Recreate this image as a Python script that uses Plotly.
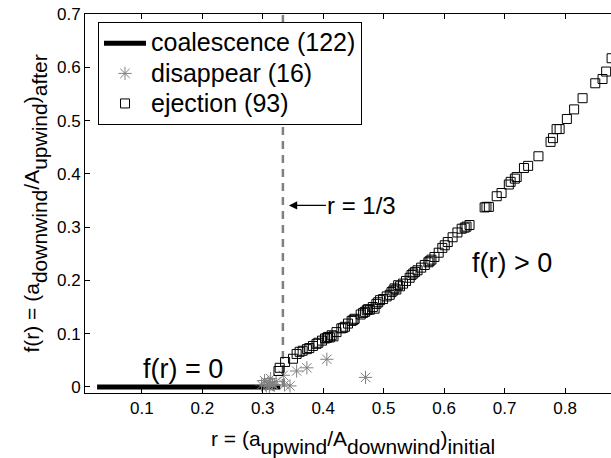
import plotly.graph_objects as go

FONT = "Liberation Sans, Arial, Helvetica, sans-serif"

# coalescence: f(r) = 0 for small r
coal_r = [0.026, 0.034, 0.041, 0.049, 0.058, 0.066, 0.075, 0.083, 0.092, 0.101,
          0.112, 0.121, 0.133, 0.142, 0.154, 0.163, 0.175, 0.186, 0.197, 0.209,
          0.218, 0.229, 0.241, 0.252, 0.263, 0.274, 0.285, 0.294, 0.303, 0.311,
          0.318, 0.324, 0.329]
coal_f = [0.0] * len(coal_r)

# disappear (16)
dis_r = [0.298, 0.303, 0.306, 0.309, 0.311, 0.313, 0.316, 0.319, 0.322, 0.334,
         0.336, 0.345, 0.356, 0.373, 0.406, 0.470]
dis_f = [0.004, 0.012, 0.002, 0.008, 0.001, 0.016, 0.005, 0.003, 0.010, 0.022,
         0.004, 0.002, 0.030, 0.036, 0.052, 0.018]

# ejection (93)
ej_r = [0.326, 0.328, 0.337, 0.350, 0.356, 0.361, 0.366, 0.373, 0.377, 0.383,
        0.389, 0.392, 0.398, 0.403, 0.406, 0.408, 0.411, 0.414, 0.417, 0.422,
        0.430, 0.433, 0.436, 0.441, 0.447, 0.450, 0.452, 0.462, 0.466, 0.469,
        0.472, 0.474, 0.477, 0.482, 0.485, 0.488, 0.491, 0.494, 0.499, 0.505,
        0.510, 0.513, 0.516, 0.518, 0.521, 0.524, 0.527, 0.532, 0.537, 0.543,
        0.546, 0.549, 0.552, 0.556, 0.562, 0.568, 0.574, 0.576, 0.579, 0.584,
        0.591, 0.597, 0.601, 0.606, 0.614, 0.622, 0.629, 0.634, 0.637, 0.642,
        0.667, 0.670, 0.674, 0.687, 0.695, 0.707, 0.710, 0.717, 0.720, 0.732,
        0.739, 0.756, 0.776, 0.780, 0.786, 0.791, 0.803, 0.815, 0.829, 0.850,
        0.862, 0.868, 0.877]
ej_f = [0.030, 0.036, 0.047, 0.053, 0.062, 0.066, 0.068, 0.071, 0.073, 0.077,
        0.081, 0.083, 0.087, 0.091, 0.092, 0.094, 0.093, 0.097, 0.095, 0.103,
        0.110, 0.111, 0.113, 0.119, 0.124, 0.126, 0.128, 0.136, 0.139, 0.141,
        0.144, 0.146, 0.145, 0.150, 0.147, 0.156, 0.159, 0.163, 0.165, 0.170,
        0.173, 0.178, 0.181, 0.185, 0.183, 0.191, 0.189, 0.194, 0.199, 0.205,
        0.210, 0.213, 0.216, 0.219, 0.224, 0.229, 0.234, 0.236, 0.239, 0.244,
        0.252, 0.261, 0.266, 0.272, 0.281, 0.290, 0.297, 0.299, 0.301, 0.304,
        0.337, 0.338, 0.338, 0.358, 0.364, 0.380, 0.385, 0.391, 0.394, 0.411,
        0.415, 0.433, 0.460, 0.467, 0.484, 0.484, 0.503, 0.521, 0.542, 0.570,
        0.578, 0.592, 0.617]

x_ticks = [0.1, 0.2, 0.3, 0.4, 0.5, 0.6, 0.7, 0.8]
y_ticks = [0, 0.1, 0.2, 0.3, 0.4, 0.5, 0.6, 0.7]
r_crit = 1 / 3


def sub(s):
    return "<span style='baseline-shift:-8px'>" + s + "</span>"


def big(s):
    return "<span style='font-size:25px'>" + s + "</span>"


fig = go.Figure()
fig.add_trace(go.Scatter(x=coal_r, y=coal_f, mode="lines", name=big("coalescence (122)"),
                         line=dict(color="black", width=5)))
fig.add_trace(go.Scatter(x=dis_r, y=dis_f, mode="markers", name=big("disappear (16)"),
                         marker=dict(symbol="asterisk-open", size=11, color="#808080",
                                     line=dict(color="#808080", width=1))))
fig.add_trace(go.Scatter(x=ej_r, y=ej_f, mode="markers", name=big("ejection (93)"),
                         marker=dict(symbol="square-open", size=9, color="black",
                                     line=dict(color="black", width=1))))

fig.add_shape(type="line", x0=r_crit, x1=r_crit, y0=0, y1=0.7, xref="x", yref="y",
              line=dict(color="#808080", width=2.5, dash="8px,6px"), layer="below")

fig.add_annotation(x=0.3433, y=0.3408, xref="x", yref="y", text="r = 1/3",
                   showarrow=True, ax=73, ay=0, arrowhead=2, arrowsize=1.5,
                   arrowwidth=1.1, arrowcolor="black", standoff=0,
                   font=dict(family=FONT, size=24, color="black"))
fig.add_annotation(x=0.168, y=0.034, xref="x", yref="y", text="f(r) = 0",
                   showarrow=False, font=dict(family=FONT, size=27, color="black"))
fig.add_annotation(x=0.713, y=0.232, xref="x", yref="y", text="f(r) > 0",
                   showarrow=False, font=dict(family=FONT, size=27, color="black"))

# axis titles
fig.add_annotation(xref="paper", yref="paper", x=0.5095, y=-0.084, xanchor="center",
                   yanchor="top", showarrow=False,
                   text="r = (a" + sub("upwind") + "/A" + sub("downwind") + ")" + sub("initial"),
                   font=dict(family=FONT, size=21, color="black"))
fig.add_annotation(xref="paper", yref="paper", x=-0.095, y=0.5, xanchor="center",
                   yanchor="middle", showarrow=False, textangle=-90,
                   text="f(r) = (a" + sub("downwind") + "/A" + sub("upwind") + ")" + sub("after"),
                   font=dict(family=FONT, size=21, color="black"))

fig.update_layout(
    width=611, height=458,
    margin=dict(l=85, r=0, t=14, b=65),
    paper_bgcolor="white", plot_bgcolor="white",
    font=dict(family=FONT, size=17, color="black"),
    showlegend=True,
    legend=dict(x=0.0247, y=0.978, xanchor="left", yanchor="top",
                bgcolor="white", bordercolor="black", borderwidth=1,
                font=dict(family=FONT, size=20.8, color="black"),
                itemwidth=42, tracegroupgap=0),
    xaxis=dict(range=[0.006, 0.876], tickvals=x_ticks, ticks="inside", ticklen=5,
               showline=True, linecolor="black", linewidth=1, mirror="ticks",
               showgrid=False, zeroline=False, tickcolor="black"),
    yaxis=dict(range=[-0.0113, 0.7], tickvals=y_ticks, ticks="inside", ticklen=5,
               showline=True, linecolor="black", linewidth=1, mirror=False,
               showgrid=False, zeroline=False, tickcolor="black"),
)

fig.write_html("out.html")
